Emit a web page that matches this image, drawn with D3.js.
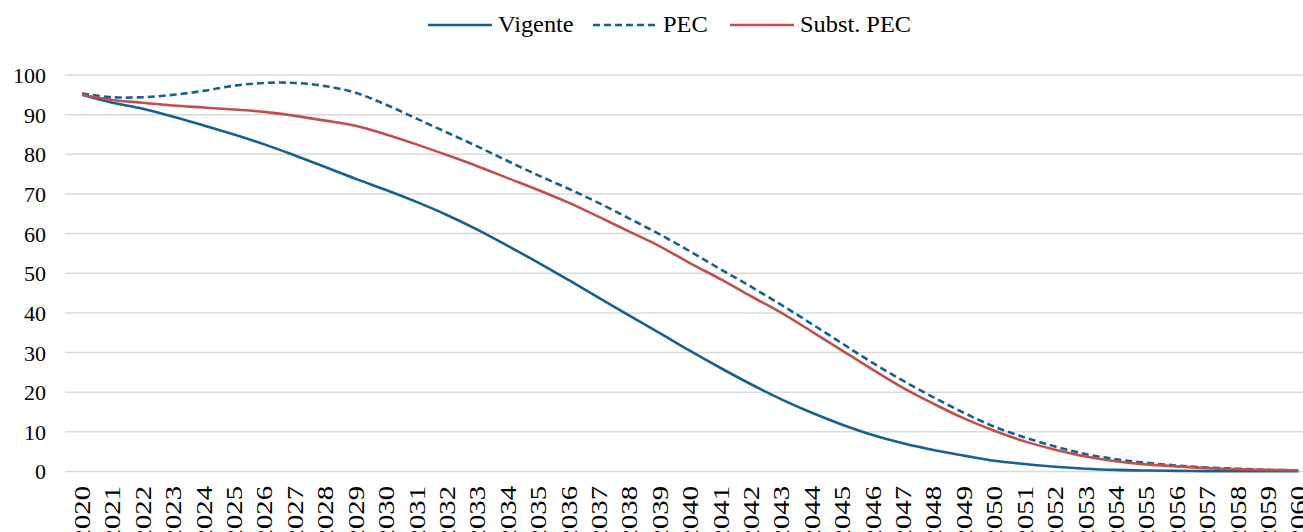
<!DOCTYPE html>
<html>
<head>
<meta charset="utf-8">
<script src="https://cdn.jsdelivr.net/npm/d3@7"></script>
<style>
  body { margin: 0; background: #fff; }
  svg { display: block; font-family: "Liberation Serif", "DejaVu Serif", serif; }
</style>
</head>
<body>
<svg id="chart" width="1303" height="532"></svg>
<script>
// data
var years = d3.range(2020, 2061).map(String);

var vigente = [95, 93, 91.5, 89.5, 87.3, 85, 82.5, 79.7, 76.8, 73.8,
    71, 68, 64.7, 61, 56.9, 52.7, 48.3, 43.8, 39.3, 34.9,
    30.4, 26.1, 22, 18.2, 14.8, 11.8, 9.2, 7.1, 5.4, 4,
    2.7, 1.9, 1.2, 0.7, 0.4, 0.25, 0.15, 0.1, 0.05, 0.05, 0.05];

var pec = [95.3, 94.4, 94.4, 95, 96, 97.3, 98, 98, 97.2, 95.5,
    92.5, 89, 85.5, 82, 78.3, 74.7, 71.3, 67.7, 63.8, 59.8,
    55.5, 51, 46.6, 42, 37.2, 32.3, 27.4, 22.9, 18.7, 14.8,
    11.3, 8.6, 6.3, 4.4, 3.1, 2.2, 1.5, 1.0, 0.7, 0.4, 0.3];

var subst = [95, 93.7, 93, 92.3, 91.8, 91.3, 90.7, 89.7, 88.5, 87.2,
    85, 82.5, 79.8, 77, 74, 71, 67.8, 64.2, 60.5, 56.8,
    52.5, 48.5, 44.2, 40, 35.3, 30.5, 25.7, 21.1, 17.1, 13.4,
    10.3, 7.6, 5.5, 3.8, 2.6, 1.8, 1.3, 0.85, 0.55, 0.4, 0.3];

var yTicks = [0, 10, 20, 30, 40, 50, 60, 70, 80, 90, 100];

var seriesNames = ["Vigente", "PEC", "Subst. PEC"];
var seriesColors = ["#17608f", "#17608f", "#c0504d"];
var seriesDash = [null, "7,4", null];
var seriesValues = [vigente, pec, subst];

var svg = d3.select("#chart");

// scales
var x = d3.scalePoint()
    .domain(years)
    .range([66.8, 1313.6])
    .padding(0.5);

var y = d3.scaleLinear()
    .domain([0, 100])
    .range([471.5, 75]);

// gridlines
svg.append("g")
    .attr("class", "grid")
    .selectAll("line")
    .data(yTicks)
    .enter().append("line")
    .attr("x1", 65)
    .attr("x2", 1313)
    .attr("y1", function (d) { return y(d); })
    .attr("y2", function (d) { return y(d); })
    .attr("stroke", "#d9d9d9")
    .attr("stroke-width", 1.5);

// y labels
var yAxis = d3.axisLeft(y).tickValues(yTicks).tickSize(0).tickPadding(0);
var gy = svg.append("g")
    .attr("transform", "translate(46,0)")
    .call(yAxis);
gy.select(".domain").remove();
gy.selectAll("text")
    .attr("font-family", "Liberation Serif, serif")
    .attr("font-size", 22)
    .attr("fill", "#000")
    .attr("dy", "0.34em");

// x labels, rotated
var gx = svg.append("g")
    .attr("class", "xlabels");
gx.selectAll("text")
    .data(years)
    .enter().append("text")
    .attr("transform", function (d) {
        return "translate(" + (x(d) + 8) + ",486) rotate(-90) scale(1.25,1)";
    })
    .attr("text-anchor", "end")
    .attr("font-size", 23)
    .attr("fill", "#000")
    .text(function (d) { return d; });

// lines
var line = d3.line()
    .x(function (d, i) { return x(years[i]); })
    .y(function (d) { return y(d); })
    .curve(d3.curveCatmullRom.alpha(0.5));

// dashed first so the solid ones sit on top
var order = [1, 0, 2];
order.forEach(function (k) {
    svg.append("path")
        .datum(seriesValues[k])
        .attr("d", line)
        .attr("fill", "none")
        .attr("stroke", seriesColors[k])
        .attr("stroke-width", 2.6)
        .attr("stroke-dasharray", seriesDash[k]);
});

// legend
var legendX = [428, 593, 730];
var leg = svg.append("g").attr("class", "legend");
seriesNames.forEach(function (name, k) {
    leg.append("line")
        .attr("x1", legendX[k])
        .attr("x2", legendX[k] + 64)
        .attr("y1", 25)
        .attr("y2", 25)
        .attr("stroke", seriesColors[k])
        .attr("stroke-width", 2.6)
        .attr("stroke-dasharray", seriesDash[k]);
    leg.append("text")
        .attr("transform", "translate(" + (legendX[k] + 70) + ",32) scale(1.06,1)")
        .attr("font-size", 23)
        .attr("fill", "#000")
        .text(name);
});
</script>
</body>
</html>
